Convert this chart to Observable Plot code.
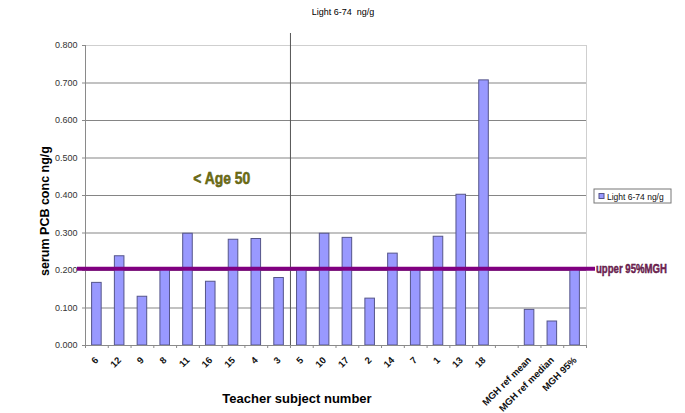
<!DOCTYPE html>
<html>
<head>
<meta charset="utf-8">
<script src="https://cdn.jsdelivr.net/npm/d3@7"></script>
<script src="https://cdn.jsdelivr.net/npm/@observablehq/plot@0.6"></script>
<style>
  html, body { margin: 0; padding: 0; background: #fff; }
  #chart { width: 685px; height: 413px; }
</style>
</head>
<body>
<div id="chart"></div>
<script>
// ---- data ----
const subjects = ["6","12","9","8","11","16","15","4","3","5","10","17","2","14","7","1","13","18"," ","MGH ref mean","MGH ref median","MGH 95%"];
const values   = [0.167,0.238,0.130,0.203,0.298,0.170,0.282,0.284,0.180,0.203,0.298,0.287,0.125,0.245,0.200,0.290,0.402,0.707,null,0.095,0.064,0.205];
const yTicks = [0, 0.1, 0.2, 0.3, 0.4, 0.5, 0.6, 0.7, 0.8];
const upper95 = [0.205];
const upperLabel = "upper 95%MGH";
const ageLabel = "< Age 50";
const ageAt = ["16"];
const ageY = [0.445];
const dividerAt = ["5"];
const dividerTop = 0.832;
const seriesName = "Light 6-74 ng/g";
const titleText = "Light 6-74  ng/g";
const yLabel = "serum PCB conc ng/g";
const xLabel = "Teacher subject number";

const data = subjects.map((s, i) => ({s, v: values[i]}));

// ---- layout ----
const W = 685, H = 413, ML = 85, MR = 99, MT = 45, MB = 68;
const step = (W - ML - MR) / subjects.length;
const font = "'Liberation Sans', Arial, sans-serif";

const chart = Plot.plot({
  width: W, height: H,
  marginLeft: ML, marginRight: MR, marginTop: MT, marginBottom: MB,
  style: {fontFamily: font, background: "#fff", overflow: "visible"},
  x: {domain: subjects, paddingInner: 0.58, paddingOuter: 0.29, round: false, label: null},
  y: {domain: [0, 0.8], label: null},
  marks: [
    Plot.gridY(yTicks.slice(1), {stroke: "#858585", strokeOpacity: 1}),
    Plot.frame({stroke: "#cfcfcf"}),
    Plot.barY(data, {x: "s", y: "v", fill: "#9999ff", stroke: "#55558a", strokeWidth: 1}),
    // axis lines
    Plot.ruleY([0], {stroke: "#8a8a8a"}),
    Plot.ruleX(subjects.slice(0, 1), {x: d => d, y1: 0, y2: 0.8, dx: -step / 2, stroke: "#8a8a8a"}),
    // category boundary ticks
    Plot.ruleX(subjects, {x: d => d, y1: 0, y2: -0.008, dx: -step / 2, stroke: "#8a8a8a"}),
    Plot.ruleX(subjects.slice(-1), {x: d => d, y1: 0, y2: -0.008, dx: step / 2, stroke: "#8a8a8a"}),
    Plot.axisY({ticks: yTicks, tickFormat: d3.format(".3f"), tickSize: 3, tickPadding: 5, fontSize: 9, fill: "#333", stroke: "#8a8a8a", label: null}),
    Plot.axisX({tickRotate: -45, tickSize: 0, tickPadding: 13, fontSize: 9.5, fontWeight: "bold", fill: "#111", label: null}),
    // vertical divider
    Plot.ruleX(dividerAt, {x: d => d, y1: 0, y2: dividerTop, dx: -step / 2, stroke: "#555", strokeWidth: 1}),
    // upper 95% line
    Plot.ruleY(upper95, {stroke: "#800080", strokeWidth: 4, insetLeft: -8, insetRight: -9}),
    // < Age 50
    Plot.text([ageLabel], {x: ageAt, y: ageY, dx: 11, fill: "#6b6b12", stroke: "#3d3d00", strokeWidth: 0.5,
      fontWeight: "bold", fontSize: 17})
  ]
});

const svg = d3.select(chart);

// fit the condensed annotation
svg.selectAll("text").filter(function() { return this.textContent === ageLabel; })
  .attr("textLength", 57).attr("lengthAdjust", "spacingAndGlyphs");

// upper 95% label
svg.append("text").attr("x", W - MR + 10).attr("y", 268.3).attr("dy", "0.35em")
  .attr("text-anchor", "start").attr("font-family", font).attr("font-weight", "bold").attr("font-size", 12)
  .attr("fill", "#7a2459").attr("stroke", "#4a0f33").attr("stroke-width", 0.4)
  .attr("textLength", 71).attr("lengthAdjust", "spacingAndGlyphs").text(upperLabel);

// titles
svg.append("text").attr("transform", "translate(45,211) rotate(-90)")
  .attr("text-anchor", "middle").attr("dy", "0.35em").attr("font-family", font)
  .attr("font-weight", "bold").attr("font-size", 12.5).attr("fill", "#000").text(yLabel);
svg.append("text").attr("x", 297).attr("y", 398).attr("dy", "0.35em").attr("text-anchor", "middle")
  .attr("font-family", font).attr("font-weight", "bold").attr("font-size", 13).attr("fill", "#000").text(xLabel);
svg.append("text").attr("x", 343).attr("y", 12).attr("dy", "0.35em").attr("text-anchor", "middle")
  .attr("font-family", font).attr("font-size", 9).attr("fill", "#000").text(titleText);

// legend
const lg = svg.append("g").attr("transform", "translate(594,189)");
lg.append("rect").attr("width", 77).attr("height", 14).attr("fill", "#fff").attr("stroke", "#777");
lg.append("rect").attr("x", 5).attr("y", 4.5).attr("width", 5).attr("height", 5).attr("fill", "#9999ff").attr("stroke", "#55558a");
lg.append("text").attr("x", 13).attr("y", 10.5).attr("text-anchor", "start").attr("font-size", 8.5)
  .attr("font-family", font).attr("fill", "#111").text(seriesName);

document.getElementById("chart").appendChild(chart);
</script>
</body>
</html>
